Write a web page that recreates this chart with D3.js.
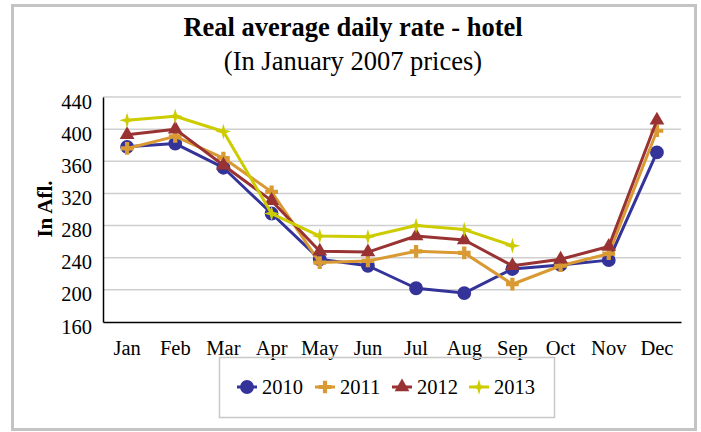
<!DOCTYPE html>
<html>
<head>
<meta charset="utf-8">
<script src="https://cdn.jsdelivr.net/npm/d3@7/dist/d3.min.js"></script>
<style>
  html, body { margin: 0; padding: 0; background: #fff; }
  svg { display: block; font-family: "Liberation Serif", "Times New Roman", serif; }
</style>
</head>
<body>
<svg id="chart" width="701" height="432"></svg>
<script>
// Months on the x axis
const months = ["Jan", "Feb", "Mar", "Apr", "May", "Jun", "Jul", "Aug", "Sep", "Oct", "Nov", "Dec"];
// Y axis ticks (Afl.)
const yTicks = [160, 200, 240, 280, 320, 360, 400, 440];

// Real average daily rate per year, Afl. (January 2007 prices)
const rate2010 = [378, 382, 352, 295, 238, 230, 202, 196, 226, 231, 237, 371];
const rate2011 = [376, 391, 364, 322, 234, 236, 248, 246, 207, 230, 245, 398];
const rate2012 = [393, 400, 355, 311, 248, 247, 267, 262, 230, 238, 254, 411];
const rate2013 = [411, 416, 397, 295, 267, 266, 280, 275, 255, null, null, null];

const seriesNames = ["2010", "2011", "2012", "2013"];
const seriesValues = [rate2010, rate2011, rate2012, rate2013];
const seriesColors = ["#333399", "#d99a33", "#993333", "#cccc00"];

// Four-pointed star with concave sides
const symbolStar4 = {
  draw(ctx, size) {
    const r = Math.sqrt(size) * 0.75;
    const k = r * 0.22;
    ctx.moveTo(0, -r);
    ctx.lineTo(k, -k);
    ctx.lineTo(r, 0);
    ctx.lineTo(k, k);
    ctx.lineTo(0, r);
    ctx.lineTo(-k, k);
    ctx.lineTo(-r, 0);
    ctx.lineTo(-k, -k);
    ctx.closePath();
  }
};
const seriesSymbols = [
  { type: d3.symbolCircle, size: 150 },
  { type: d3.symbolCross, size: 90 },
  { type: d3.symbolTriangle, size: 95 },
  { type: symbolStar4, size: 110 }
];

const svg = d3.select("#chart");

// Outer frame
svg.append("rect")
  .attr("x", 12.5).attr("y", 5.5)
  .attr("width", 683).attr("height", 424)
  .attr("fill", "#fff")
  .attr("stroke", "#c4c4c4").attr("stroke-width", 3);

// Titles
svg.append("text")
  .attr("x", 353).attr("y", 36)
  .attr("text-anchor", "middle")
  .attr("font-size", 26.5).attr("font-weight", "bold")
  .text("Real average daily rate - hotel");
svg.append("text")
  .attr("x", 353).attr("y", 70)
  .attr("text-anchor", "middle")
  .attr("font-size", 26.5)
  .text("(In January 2007 prices)");

const plot = { left: 103, right: 681, top: 97, bottom: 322 };

const x = d3.scaleBand().domain(months).range([plot.left, plot.right]);
const y = d3.scaleLinear().domain([160, 440]).range([plot.bottom, plot.top]);

// Gridlines
svg.append("g")
  .selectAll("line")
  .data(yTicks.filter(t => t > 160))
  .join("line")
  .attr("x1", plot.left).attr("x2", plot.right)
  .attr("y1", d => y(d)).attr("y2", d => y(d))
  .attr("stroke", "#cfcfcf").attr("stroke-width", 1.5);

// Y axis
const yAxis = svg.append("g")
  .attr("transform", `translate(${plot.left},0)`)
  .call(d3.axisLeft(y).tickValues(yTicks).tickSize(0).tickPadding(11));
yAxis.select(".domain").attr("stroke", "#000").attr("stroke-width", 1.5);
yAxis.selectAll("text")
  .attr("font-family", "Liberation Serif, serif")
  .attr("font-size", 20.5).attr("fill", "#000")
  .attr("dy", null).attr("y", 11);

// X axis
const xAxis = svg.append("g")
  .attr("transform", `translate(0,${plot.bottom})`)
  .call(d3.axisBottom(x).tickSize(0));
xAxis.select(".domain").attr("stroke", "#000").attr("stroke-width", 1.5);
xAxis.selectAll("text")
  .attr("font-family", "Liberation Serif, serif")
  .attr("font-size", 20.5).attr("fill", "#000")
  .attr("dy", null).attr("y", 33);

// Y axis title
svg.append("text")
  .attr("transform", "translate(52,209) rotate(-90)")
  .attr("text-anchor", "middle")
  .attr("font-size", 21).attr("font-weight", "bold")
  .text("In Afl.");

const cx = m => x(m) + x.bandwidth() / 2;

const line = d3.line()
  .defined(d => d.v != null)
  .x(d => cx(d.m))
  .y(d => y(d.v));

seriesValues.forEach((vals, i) => {
  const pts = vals.map((v, j) => ({ m: months[j], v }));
  const g = svg.append("g");
  g.append("path")
    .datum(pts)
    .attr("d", line)
    .attr("fill", "none")
    .attr("stroke", seriesColors[i])
    .attr("stroke-width", 3)
    .attr("stroke-linejoin", "round");
  const sym = d3.symbol().type(seriesSymbols[i].type).size(seriesSymbols[i].size);
  g.selectAll("path.mk")
    .data(pts.filter(d => d.v != null))
    .join("path")
    .attr("class", "mk")
    .attr("d", sym)
    .attr("transform", d => `translate(${cx(d.m)},${y(d.v)})`)
    .attr("fill", seriesColors[i]);
});

// Legend
const legend = svg.append("g");
legend.append("rect")
  .attr("x", 219.5).attr("y", 357.5)
  .attr("width", 335).attr("height", 60)
  .attr("fill", "none")
  .attr("stroke", "#c8c8c8").attr("stroke-width", 1.5);

const legendX = [247, 325, 402, 479];
seriesNames.forEach((name, i) => {
  const lx = legendX[i], ly = 387;
  legend.append("line")
    .attr("x1", lx - 10).attr("x2", lx + 10)
    .attr("y1", ly).attr("y2", ly)
    .attr("stroke", seriesColors[i]).attr("stroke-width", 3);
  legend.append("path")
    .attr("d", d3.symbol().type(seriesSymbols[i].type).size(seriesSymbols[i].size)())
    .attr("transform", `translate(${lx},${ly})`)
    .attr("fill", seriesColors[i]);
  legend.append("text")
    .attr("x", lx + 15).attr("y", ly + 7)
    .attr("font-size", 20.5)
    .text(name);
});
</script>
</body>
</html>
